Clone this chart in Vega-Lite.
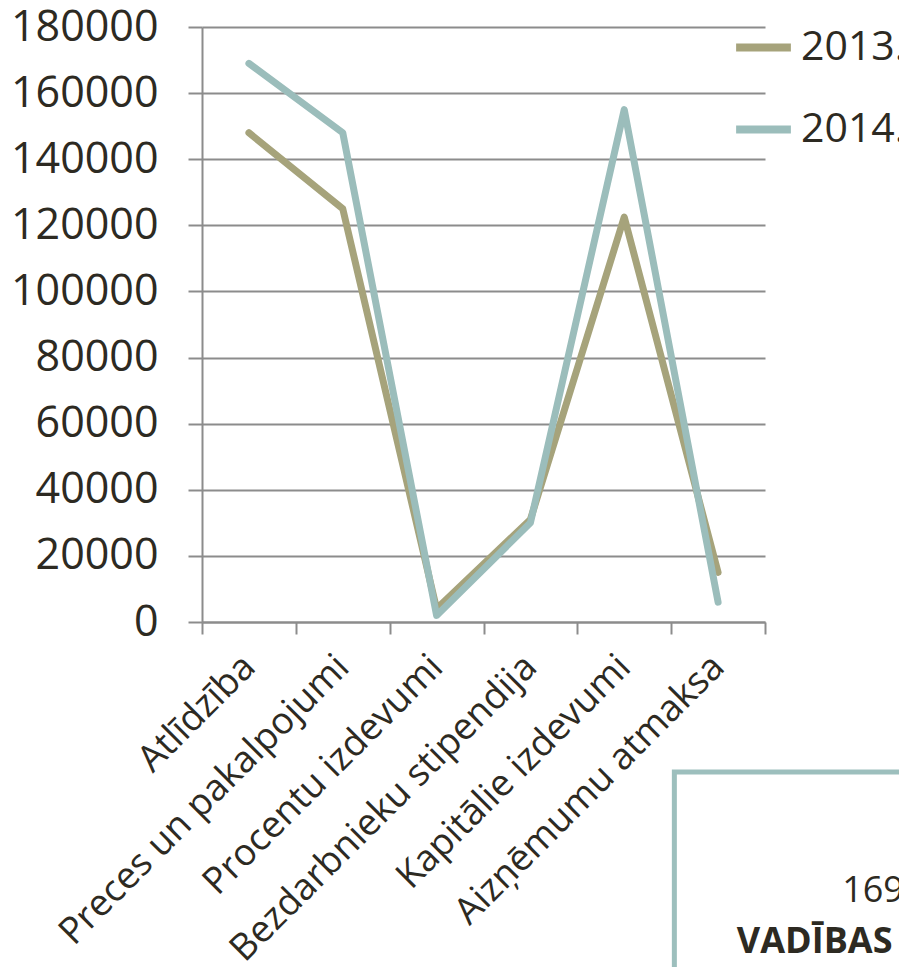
{
  "$schema": "https://vega.github.io/schema/vega-lite/v6.json",
  "width": 563,
  "height": 595,
  "autosize": {"type": "none"},
  "padding": {"left": 202, "top": 27, "right": 134, "bottom": 345},
  "background": "white",
  "config": {"view": {"stroke": null}, "font": "Open Sans"},
  "datasets": {
    "spend": [
      {"category": "Atlīdzība", "year": "2013.", "value": 148000},
      {"category": "Preces un pakalpojumi", "year": "2013.", "value": 125000},
      {"category": "Procentu izdevumi", "year": "2013.", "value": 4000},
      {"category": "Bezdarbnieku stipendija", "year": "2013.", "value": 31000},
      {"category": "Kapitālie izdevumi", "year": "2013.", "value": 122500},
      {"category": "Aizņēmumu atmaksa", "year": "2013.", "value": 15000},
      {"category": "Atlīdzība", "year": "2014.", "value": 169000},
      {"category": "Preces un pakalpojumi", "year": "2014.", "value": 148000},
      {"category": "Procentu izdevumi", "year": "2014.", "value": 2000},
      {"category": "Bezdarbnieku stipendija", "year": "2014.", "value": 30000},
      {"category": "Kapitālie izdevumi", "year": "2014.", "value": 155000},
      {"category": "Aizņēmumu atmaksa", "year": "2014.", "value": 6000}
    ],
    "note": [{"line1": "169", "line2": "VADĪBAS"}]
  },
  "layer": [
    {
      "data": {"name": "spend"},
      "mark": {"type": "line", "strokeWidth": 7, "strokeCap": "round", "strokeJoin": "round"},
      "encoding": {
        "x": {
          "field": "category",
          "type": "nominal",
          "sort": ["Atlīdzība", "Preces un pakalpojumi", "Procentu izdevumi", "Bezdarbnieku stipendija", "Kapitālie izdevumi", "Aizņēmumu atmaksa"],
          "scale": {"paddingInner": 0, "paddingOuter": 0},
          "axis": {
            "title": null,
            "tickBand": "extent",
            "labelAngle": -45,
            "labelAlign": "right",
            "labelBaseline": "middle",
            "labelFontSize": 37,
            "labelColor": "#2d2a22",
            "labelPadding": 27,
            "labelLimit": 0,
            "tickSize": 12,
            "tickColor": "#8c8c8c",
            "tickWidth": 2,
            "domainColor": "#8c8c8c",
            "domainWidth": 2,
            "grid": false
          }
        },
        "y": {
          "field": "value",
          "type": "quantitative",
          "scale": {"domain": [0, 180000], "nice": false},
          "axis": {
            "title": null,
            "values": [0, 20000, 40000, 60000, 80000, 100000, 120000, 140000, 160000, 180000],
            "format": "d",
            "grid": true,
            "gridColor": "#8c8c8c",
            "gridWidth": 2,
            "domainColor": "#8c8c8c",
            "domainWidth": 2,
            "tickSize": 14,
            "tickColor": "#8c8c8c",
            "tickWidth": 2,
            "labelFontSize": 43,
            "labelColor": "#2d2a22",
            "labelPadding": 30
          }
        },
        "color": {
          "field": "year",
          "type": "nominal",
          "scale": {"domain": ["2013.", "2014."], "range": ["#a6a37b", "#9bbdbb"]},
          "legend": {
            "orient": "none",
            "legendX": 530,
            "legendY": -11,
            "title": null,
            "symbolType": "stroke",
            "symbolSize": 3000,
            "symbolStrokeWidth": 8,
            "labelFontSize": 41,
            "labelColor": "#2d2a22",
            "labelOffset": 6,
            "rowPadding": 30,
            "labelLimit": 0
          }
        }
      }
    },
    {
      "data": {"name": "note"},
      "mark": {"type": "rect", "filled": false, "stroke": "#9dbfbd", "strokeWidth": 5, "clip": false},
      "encoding": {
        "x": {"datum": 0.839, "type": "quantitative", "scale": {"domain": [0, 1]}, "axis": null},
        "x2": {"datum": 1.5},
        "y": {"datum": -45400, "type": "quantitative", "scale": {"domain": [0, 180000], "nice": false}},
        "y2": {"datum": -140000}
      }
    },
    {
      "data": {"name": "note"},
      "mark": {"type": "text", "align": "left", "baseline": "alphabetic", "fontSize": 36, "color": "#2d2a22", "clip": false},
      "encoding": {
        "x": {"datum": 1.137, "type": "quantitative", "scale": {"domain": [0, 1]}, "axis": null},
        "y": {"datum": -84700, "type": "quantitative", "scale": {"domain": [0, 180000], "nice": false}},
        "text": {"field": "line1"}
      }
    },
    {
      "data": {"name": "note"},
      "mark": {"type": "text", "align": "left", "baseline": "alphabetic", "fontSize": 36, "fontWeight": "bold", "color": "#2d2a22", "clip": false},
      "encoding": {
        "x": {"datum": 0.95, "type": "quantitative", "scale": {"domain": [0, 1]}, "axis": null},
        "y": {"datum": -100100, "type": "quantitative", "scale": {"domain": [0, 180000], "nice": false}},
        "text": {"field": "line2"}
      }
    }
  ],
  "resolve": {"scale": {"x": "independent"}, "axis": {"x": "independent"}}
}
